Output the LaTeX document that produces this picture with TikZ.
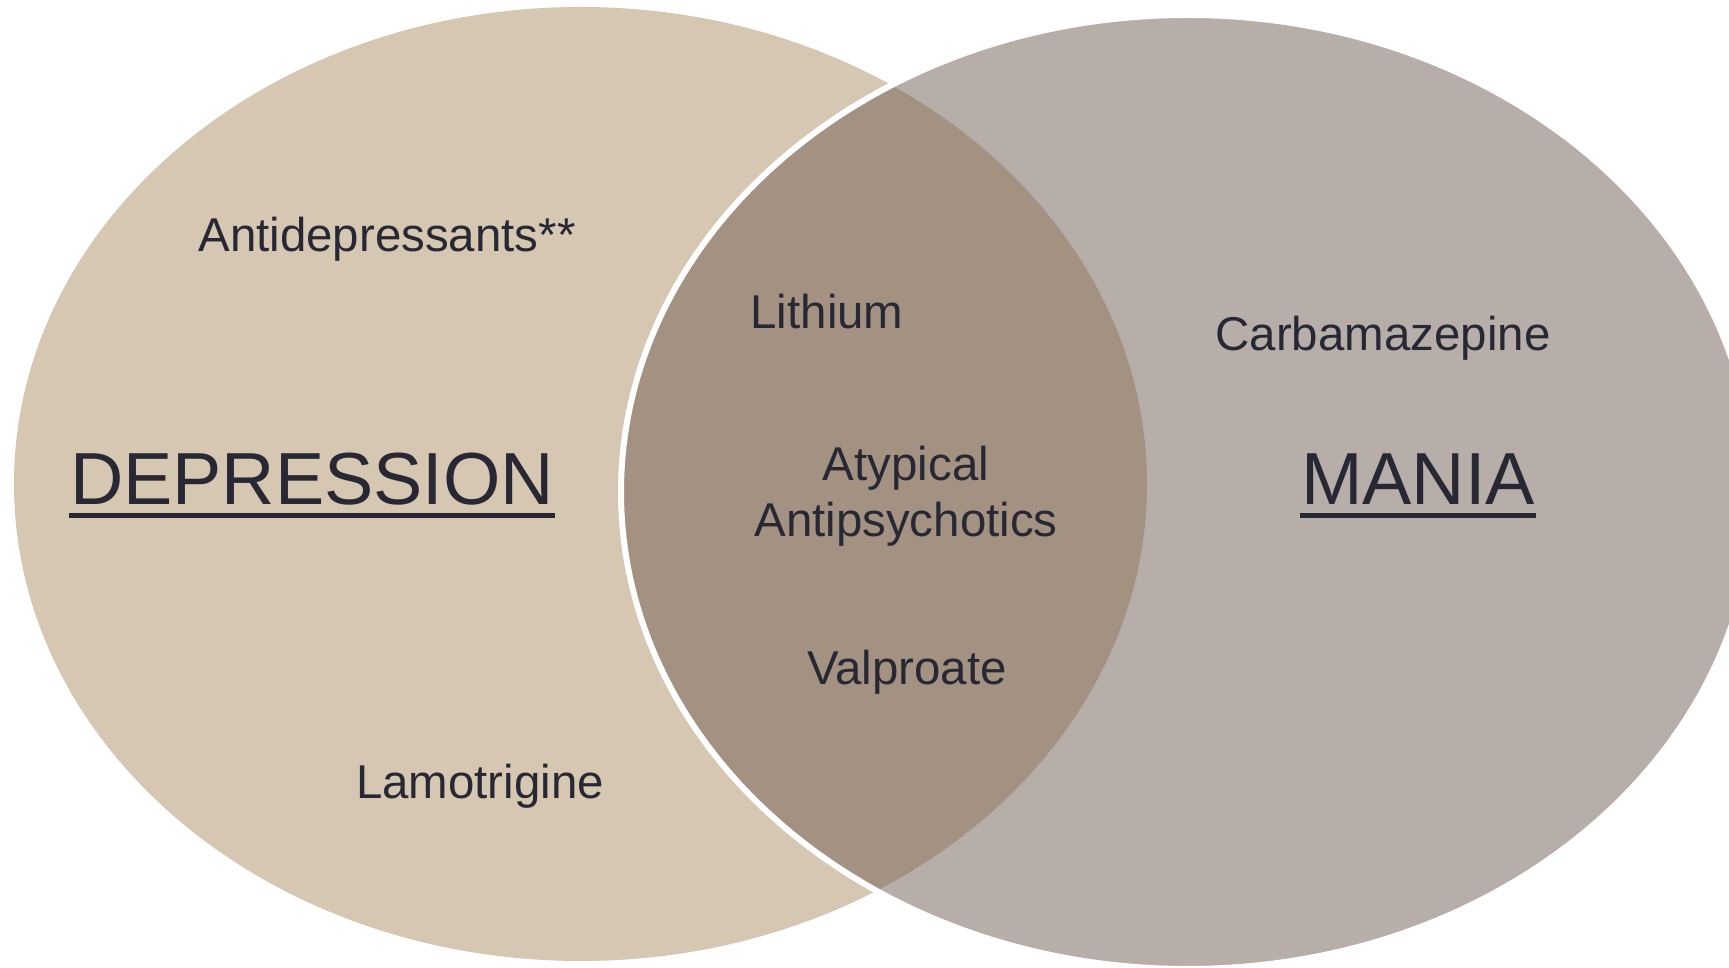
\documentclass[tikz,border=0pt]{standalone}
\usepackage{fontspec}
\setmainfont{Liberation Sans}
\usepackage{color}
\definecolor{mybeige}{RGB}{214,199,178}
\definecolor{mytaupe}{RGB}{183,174,169}
\definecolor{mybrown}{RGB}{163,146,130}
\definecolor{mytext}{RGB}{40,40,52}
\newcommand{\radx}{5.665}
\newcommand{\rady}{4.77}
\tikzset{
    common/.style={inner sep=0pt, anchor=base, text=mytext},
    drug/.style={common, align=center, font=\fontsize{13.5pt}{16.2pt}\selectfont},
    state/.style={common, font=\fontsize{21pt}{25pt}\selectfont},
    rim/.style={draw=white, line width=0.6mm}
}
\begin{document}
\begin{tikzpicture}
    \useasboundingbox (0,0) rectangle (17.29,9.68);
    \coordinate (L) at (5.805,4.84);
    \coordinate (R) at (11.875,4.76);
    \fill[mybeige] (L) ellipse [x radius=\radx, y radius=\rady];
    \fill[mytaupe] (R) ellipse [x radius=\radx, y radius=\rady];
    \begin{scope}
        \clip (L) ellipse [x radius=\radx, y radius=\rady];
        \fill[mybrown] (R) ellipse [x radius=\radx, y radius=\rady];
    \end{scope}
    \draw[rim] (R) ellipse [x radius=\radx, y radius=\rady];

    \node[drug] (antidep) at (3.87,7.16) {Antidepressants**};
    \node[drug] (lamo) at (4.80,1.69) {Lamotrigine};
    \node[drug] (lithium) at (8.27,6.39) {Lithium};
    \node[drug] (atyp) at (9.06,4.31) {Atypical\\Antipsychotics};
    \node[drug] (valp) at (9.07,2.83) {Valproate};
    \node[drug] (carba) at (13.83,6.17) {Carbamazepine};
    \node[state] (dep) at (3.12,4.63) {DEPRESSION};
    \node[state] (mania) at (14.18,4.63) {MANIA};

    \draw[mytext, line width=0.5mm] ([yshift=-1.05mm]dep.base west) -- ([yshift=-1.05mm]dep.base east);
    \draw[mytext, line width=0.5mm] ([yshift=-1.05mm]mania.base west) -- ([yshift=-1.05mm]mania.base east);
\end{tikzpicture}
\end{document}
